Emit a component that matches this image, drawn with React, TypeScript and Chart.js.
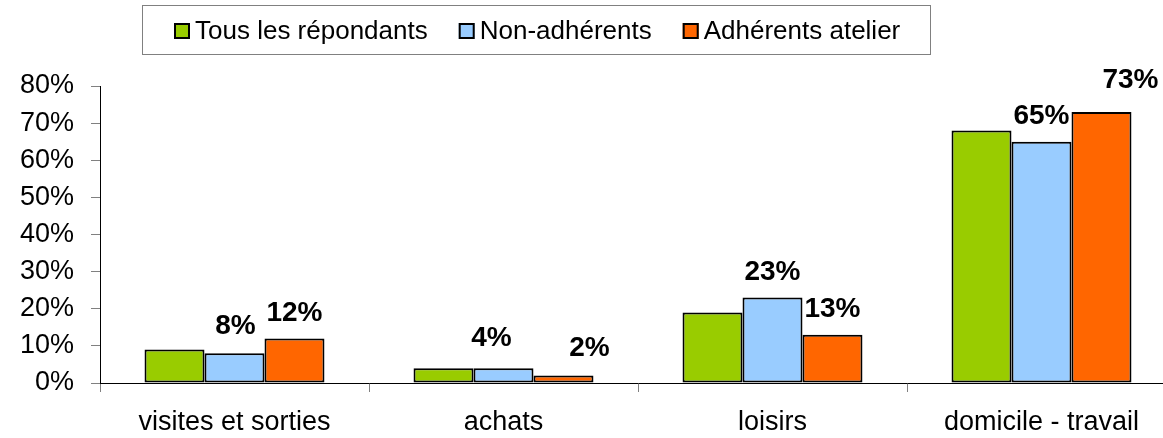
import React, { useEffect, useRef } from "react";
import { Chart, registerables } from "chart.js";

Chart.register(...registerables);

const categories = ["visites et sorties", "achats", "loisirs", "domicile - travail"];
const seriesNames = ["Tous les répondants", "Non-adhérents", "Adhérents atelier"];
const tousRepondants = [9, 4, 19, 68];
const nonAdherents = [8, 4, 23, 65];
const adherentsAtelier = [12, 2, 13, 73];
const yMin = 0;
const yMax = 80;
const yStep = 10;
// which series carry value labels
const labelledSeries = [false, true, true];

const colors = ["#99CC00", "#99CCFF", "#FF6600"];
const FONT = "'Liberation Sans', Arial, sans-serif";

// label nudges (style): key "dataset-index" -> [dx, dy above bar top]
const labelNudge: Record<string, [number, number]> = {
  "1-0": [1, 19],
  "2-0": [0, 17],
  "1-1": [-12, 22],
  "2-1": [26, 20],
  "2-3": [29, 24],
};

const legendPlugin = {
  id: "boxLegend",
  afterDraw(chart: any) {
    const ctx = chart.ctx;
    ctx.save();
    ctx.strokeStyle = "#808080";
    ctx.lineWidth = 1;
    ctx.strokeRect(142.5, 5.5, 788, 49);
    ctx.font = `26px ${FONT}`;
    ctx.textBaseline = "alphabetic";
    ctx.textAlign = "left";
    let x = 174;
    const box = 16;
    chart.data.datasets.forEach((ds: any, i: number) => {
      ctx.fillStyle = ds.backgroundColor;
      ctx.fillRect(x, 23, box, box);
      ctx.strokeStyle = "#000";
      ctx.lineWidth = 2;
      ctx.strokeRect(x + 1, 24, box - 2, box - 2);
      ctx.fillStyle = "#000";
      ctx.fillText(ds.label, x + box + 5, 39);
      const w = ctx.measureText(ds.label).width;
      x += box + 5 + w + 31;
    });
    ctx.restore();
  },
};

const valueLabelPlugin = {
  id: "valueLabels",
  afterDatasetsDraw(chart: any) {
    const ctx = chart.ctx;
    ctx.save();
    ctx.font = `bold 28px ${FONT}`;
    ctx.fillStyle = "#000";
    ctx.textAlign = "center";
    ctx.textBaseline = "alphabetic";
    chart.data.datasets.forEach((ds: any, di: number) => {
      if (!labelledSeries[di]) return;
      const meta = chart.getDatasetMeta(di);
      meta.data.forEach((bar: any, i: number) => {
        const nudge = labelNudge[`${di}-${i}`] || [0, 18];
        ctx.fillText(`${ds.data[i]}%`, bar.x + nudge[0], bar.y - nudge[1]);
      });
    });
    ctx.restore();
  },
};

export default function App() {
  const ref = useRef<HTMLCanvasElement>(null);
  useEffect(() => {
    if (!ref.current) return;
    const values = [tousRepondants, nonAdherents, adherentsAtelier];
    const chart = new Chart(ref.current, {
      type: "bar",
      data: {
        labels: categories,
        datasets: values.map((v, i) => ({
          label: seriesNames[i],
          data: v,
          backgroundColor: colors[i],
          borderColor: "#000",
          borderWidth: 2,
          borderSkipped: false,
          barPercentage: 1,
          categoryPercentage: 0.669,
        })),
      },
      options: {
        animation: false,
        responsive: false,
        devicePixelRatio: 1,
        layout: { padding: { top: 86, left: 0, right: 0, bottom: 0 } },
        plugins: { legend: { display: false }, tooltip: { enabled: false } },
        scales: {
          x: {
            grid: {
              display: true,
              drawOnChartArea: false,
              tickLength: 9,
              color: "#808080",
              offset: true,
            },
            border: { display: true, color: "#000", width: 1 },
            ticks: { color: "#000", font: { size: 27, family: FONT }, padding: 14, maxRotation: 0 },
            afterFit: (s: any) => {
              s.height = 55;
            },
          },
          y: {
            min: yMin,
            max: yMax,
            grid: { display: true, drawOnChartArea: false, tickLength: 9, color: "#808080" },
            border: { display: true, color: "#000", width: 1 },
            ticks: {
              stepSize: yStep,
              color: "#000",
              font: { size: 27, family: FONT },
              padding: 17,
              callback: (v: any) => `${v}%`,
            },
            afterFit: (s: any) => {
              s.width = 100;
            },
          },
        },
      },
      plugins: [legendPlugin, valueLabelPlugin],
    });
    return () => chart.destroy();
  }, []);
  return (
    <div
      style={{
        position: "absolute",
        left: 0,
        top: 0,
        width: 1163,
        height: 438,
        overflow: "hidden",
        background: "#fff",
      }}
    >
      <canvas ref={ref} width={1176} height={438} style={{ display: "block" }} />
    </div>
  );
}
